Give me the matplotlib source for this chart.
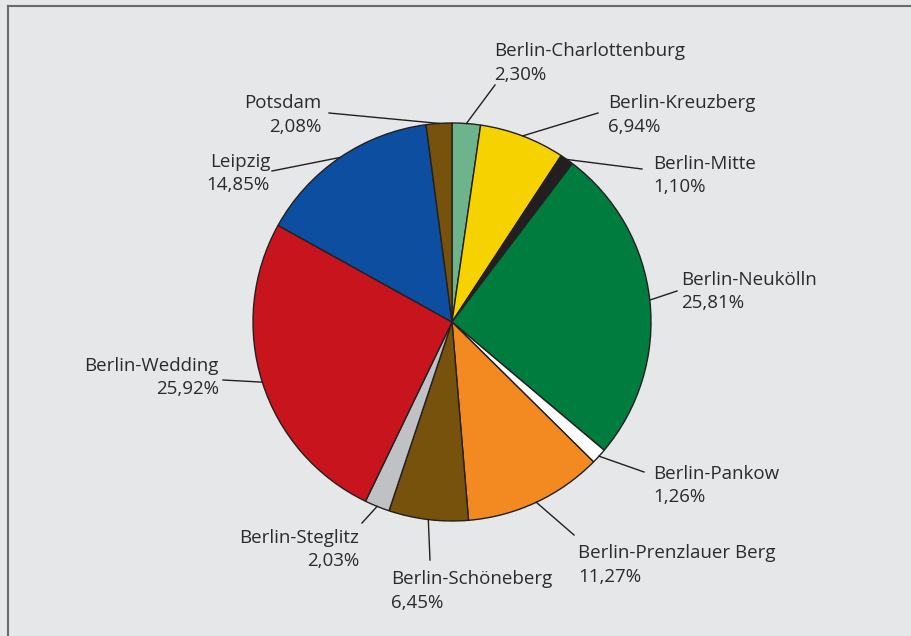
import numpy as np
import matplotlib.pyplot as plt

plt.rcParams['font.family'] = ['Open Sans', 'DejaVu Sans']

# shares per location, clockwise from 12 o'clock
names = ['Berlin-Charlottenburg', 'Berlin-Kreuzberg', 'Berlin-Mitte',
         'Berlin-Neukölln', 'Berlin-Pankow', 'Berlin-Prenzlauer Berg',
         'Berlin-Schöneberg', 'Berlin-Steglitz', 'Berlin-Wedding',
         'Leipzig', 'Potsdam']
shares = [2.30, 6.94, 1.10, 25.81, 1.26, 11.27, 6.45, 2.03, 25.92, 14.85, 2.08]
pct_text = ['2,30%', '6,94%', '1,10%', '25,81%', '1,26%', '11,27%',
            '6,45%', '2,03%', '25,92%', '14,85%', '2,08%']
colors = ['#6db38c', '#f5d200', '#231f20', '#007c3e', '#ffffff', '#f28a21',
          '#76520c', '#c0c1c4', '#c8141c', '#0d4ea0', '#76520c']

# label layout in pixels (x, baseline of first line), alignment, leader end
label_pos = [(494, 56), (608, 108), (653, 169), (681, 285), (653, 479),
             (578, 558), (391, 584), (359, 543), (219, 371), (270, 167),
             (321, 108)]
label_ha = ['left', 'left', 'left', 'left', 'left', 'left', 'left',
            'right', 'right', 'right', 'right']
line_end = [(495, 85), (598, 113), (642, 169), (677, 291), (644, 472),
            (574, 535), (430, 560), (362, 523), (223, 380), (272, 171),
            (329, 113)]

W, H = 911, 636
cx, cy, r = 452, 322, 199
txt_col = '#2b2b2b'

fig = plt.figure(figsize=(W / 100, H / 100), dpi=100)
fig.patch.set_facecolor('#e6e7e9')
ax = fig.add_axes([0, 0, 1, 1])
ax.set_xlim(0, W)
ax.set_ylim(0, H)
ax.set_aspect('equal')
ax.axis('off')

wedges, _ = ax.pie(shares, colors=colors, startangle=90, counterclock=False,
                   center=(cx, H - cy), radius=r,
                   wedgeprops=dict(edgecolor='#231f20', linewidth=1.0))
ax.set_xlim(0, W)
ax.set_ylim(0, H)

for w, name, pct, (tx, ty), ha, (ex, ey) in zip(wedges, names, pct_text,
                                               label_pos, label_ha, line_end):
    mid = np.deg2rad((w.theta1 + w.theta2) / 2)
    sx = cx + r * np.cos(mid)
    sy = (H - cy) + r * np.sin(mid)
    ax.plot([sx, ex], [sy, H - ey], color='#231f20', lw=1.0)
    ax.text(tx, H - ty, name, ha=ha, va='baseline', fontsize=13.5, color=txt_col)
    ax.text(tx, H - ty - 23.5, pct, ha=ha, va='baseline', fontsize=13.5,
            color=txt_col)

# frame lines on the left and top
ax.plot([8, 8], [0, H - 6], color='#6a6a6a', lw=1.5, clip_on=False)
ax.plot([8, W], [H - 6, H - 6], color='#6a6a6a', lw=1.5, clip_on=False)

fig.savefig('out.png', dpi=100, facecolor=fig.get_facecolor())
